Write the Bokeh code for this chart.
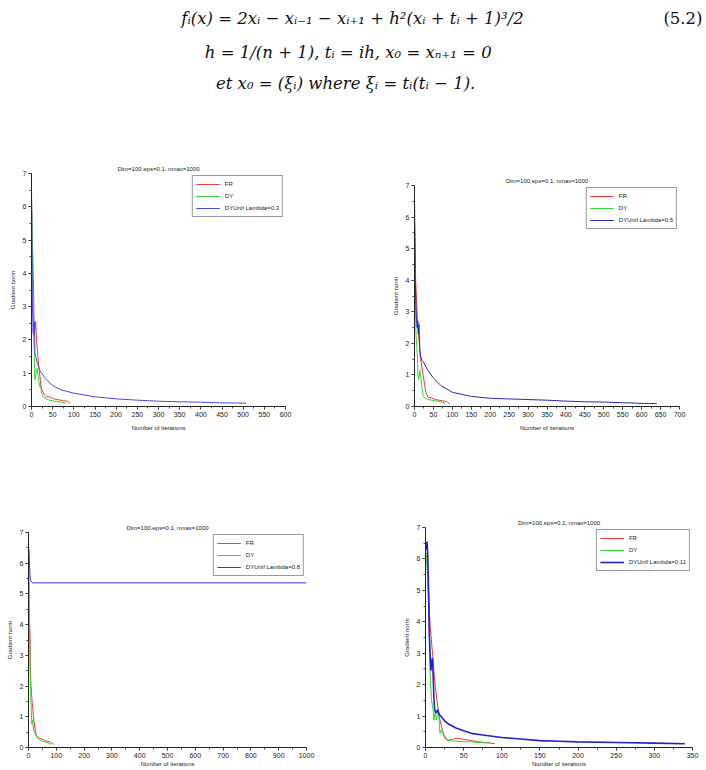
from bokeh.plotting import figure
from bokeh.models import Range1d, Label, Legend, LegendItem, SingleIntervalTicker
from bokeh.layouts import column, row
from bokeh.embed import file_html
from bokeh.resources import INLINE

# ---------------- data ----------------
TITLE = "Dim=100,eps=0.1, nmax=1000"
XLABEL = "Number of iterations"
YLABEL = "Gradient norm"
LABELS_FR = "FR"
LABELS_DY = "DY"
LAMBDA_LABELS = ["DYUnif Lambda=0.3", "DYUnif Lambda=0.5", "DYUnif Lambda=0.8", "DYUnif Lambda=0.11"]
XMAX = [600, 700, 1000, 350]
XTICK_STEP = [50, 50, 100, 50]

EQ_LINE1 = "f\u1d62(x) = 2x\u1d62 \u2212 x\u1d62\u208b\u2081 \u2212 x\u1d62\u208a\u2081 + h\u00b2(x\u1d62 + t\u1d62 + 1)\u00b3/2"
EQ_NUM = "(5.2)"
EQ_LINE2 = "h = 1/(n + 1),  t\u1d62 = ih,  x\u2080 = x\u2099\u208a\u2081 = 0"
EQ_LINE3 = "et  x\u2080 = (\u03be\u1d62)  where  \u03be\u1d62 = t\u1d62(t\u1d62 \u2212 1)."

# plot 1 (Lambda=0.3)
P1_FR_X = [0, 1, 2, 3, 4, 5, 6, 8, 10, 12, 15, 18, 20, 22, 25, 30, 35, 45, 55, 65, 75, 85, 92]
P1_FR_Y = [6.25, 5.6, 5.0, 4.5, 4.0, 3.4, 2.6, 2.3, 2.55, 2.0, 1.5, 1.1, 0.9, 0.65, 0.5, 0.35, 0.3, 0.28, 0.22, 0.2, 0.17, 0.16, 0.08]
P1_DY_X = [0, 1, 2, 3, 4, 5, 6, 8, 10, 13, 16, 19, 21, 24, 27, 32, 40, 50, 60, 70, 80]
P1_DY_Y = [6.1, 5.7, 4.5, 3.5, 3.0, 2.1, 1.8, 0.8, 0.95, 1.15, 0.9, 0.6, 0.65, 0.4, 0.3, 0.25, 0.2, 0.17, 0.15, 0.13, 0.1]
P1_DU_X = [0, 1, 2, 3, 4, 5, 6, 7, 8, 10, 14, 20, 25, 35, 50, 70, 100, 150, 200, 250, 300, 350, 400, 450, 500, 507]
P1_DU_Y = [6.55, 5.0, 3.2, 2.6, 2.2, 2.5, 2.15, 2.55, 1.6, 1.5, 1.3, 1.08, 0.98, 0.8, 0.63, 0.5, 0.4, 0.29, 0.23, 0.19, 0.16, 0.14, 0.13, 0.11, 0.1, 0.1]

# plot 2 (Lambda=0.5)
P2_FR_X = [0, 1, 3, 5, 7, 9, 12, 15, 18, 22, 26, 30, 35, 45, 55, 65, 75, 85, 93]
P2_FR_Y = [5.8, 5.3, 4.0, 3.5, 2.9, 2.5, 2.1, 1.6, 1.35, 1.05, 0.75, 0.45, 0.3, 0.27, 0.22, 0.2, 0.18, 0.15, 0.08]
P2_DY_X = [0, 1, 2, 3, 4, 6, 8, 9, 11, 14, 17, 20, 23, 27, 35, 45, 55, 65, 75, 80]
P2_DY_Y = [5.6, 5.0, 4.0, 3.0, 2.3, 1.9, 1.5, 1.0, 0.85, 1.15, 0.9, 0.55, 0.35, 0.28, 0.22, 0.2, 0.18, 0.16, 0.13, 0.1]
P2_DU_X = [0, 1, 2, 3, 5, 7, 9, 10, 12, 14, 16, 20, 25, 35, 42, 50, 70, 100, 150, 200, 250, 300, 350, 400, 450, 500, 550, 600, 640]
P2_DU_Y = [6.6, 5.5, 4.0, 3.5, 2.8, 2.5, 2.7, 2.3, 2.6, 1.8, 1.6, 1.45, 1.38, 1.15, 1.03, 0.9, 0.66, 0.45, 0.32, 0.26, 0.24, 0.22, 0.2, 0.17, 0.15, 0.14, 0.12, 0.1, 0.09]

# plot 3 (Lambda=0.8)
P3_FR_X = [0, 1, 2, 3, 4, 6, 7, 9, 12, 15, 18, 22, 25, 30, 40, 50, 60, 70, 80, 90]
P3_FR_Y = [6.3, 5.8, 5.0, 4.3, 4.0, 3.5, 2.5, 2.0, 1.6, 1.3, 1.0, 0.7, 0.5, 0.35, 0.3, 0.27, 0.22, 0.2, 0.17, 0.1]
P3_DY_X = [0, 1, 2, 3, 4, 5, 6, 8, 10, 12, 15, 18, 22, 26, 32, 40, 50, 60, 70, 80]
P3_DY_Y = [6.2, 5.5, 5.0, 4.3, 3.5, 3.0, 2.4, 1.8, 1.2, 0.75, 0.9, 0.6, 0.5, 0.4, 0.3, 0.25, 0.2, 0.18, 0.15, 0.1]
P3_DU_X = [0, 2, 4, 6, 8, 10, 15, 1000]
P3_DU_Y = [6.55, 6.4, 5.9, 5.5, 5.45, 5.4, 5.36, 5.36]

# plot 4 (Lambda=0.11)
P4_FR_X = [0, 2, 3, 6, 10, 12, 15, 18, 21, 24, 29, 35, 40, 50, 60, 70, 80, 91]
P4_FR_Y = [6.2, 6.0, 5.6, 3.9, 2.77, 2.13, 1.5, 0.98, 0.66, 0.4, 0.24, 0.25, 0.3, 0.26, 0.22, 0.18, 0.16, 0.12]
P4_DY_X = [0, 2, 3, 5, 6, 8, 10, 11, 13, 14, 17, 19, 21, 24, 27, 33, 45, 60, 75, 85]
P4_DY_Y = [6.3, 5.8, 5.3, 3.9, 2.35, 1.5, 1.19, 0.87, 1.19, 0.87, 1.19, 0.45, 0.56, 0.35, 0.24, 0.21, 0.19, 0.18, 0.15, 0.14]
P4_DU_X = [0, 1, 2, 3, 4, 5, 6, 7, 8, 9, 10, 11, 12, 14, 16, 18, 20, 25, 30, 40, 50, 60, 75, 100, 125, 150, 175, 200, 250, 300, 340]
P4_DU_Y = [6.35, 6.3, 6.55, 6.1, 5.0, 3.6, 3.0, 2.45, 2.6, 2.85, 2.3, 1.6, 1.2, 1.1, 1.2, 1.05, 1.0, 0.85, 0.75, 0.62, 0.53, 0.45, 0.4, 0.32, 0.27, 0.22, 0.2, 0.18, 0.16, 0.14, 0.12]

SERIES = [
    (P1_FR_X, P1_FR_Y, P1_DY_X, P1_DY_Y, P1_DU_X, P1_DU_Y),
    (P2_FR_X, P2_FR_Y, P2_DY_X, P2_DY_Y, P2_DU_X, P2_DU_Y),
    (P3_FR_X, P3_FR_Y, P3_DY_X, P3_DY_Y, P3_DU_X, P3_DU_Y),
    (P4_FR_X, P4_FR_Y, P4_DY_X, P4_DY_Y, P4_DU_X, P4_DU_Y),
]

# ---------------- styles ----------------
RED = "#ee3b3b"
GREEN = "#33d633"
BLUES = ["#4a4ae6", "#2a2ab8", "#3a3ad6", "#2323c4"]
BLUE_W = [1, 1, 1, 1.6]
FONT = "Liberation Sans"
AXIS_COLOR = "#222222"

# (width, height, left, right, top, bottom, top margin)
GEOM = [
    (353, 355, 31, 68, 23, 99, 0),
    (353, 343, 61, 27, 23, 97, 12),
    (353, 260, 28, 47, 22, 23, 5),
    (353, 265, 72, 14, 22, 21, 0),
]


def make_panel(i):
    w, h, bl, br, bt, bb, mt = GEOM[i]
    fx, fy, dx, dy, ux, uy = SERIES[i]
    p = figure(width=w, height=h, x_range=Range1d(0, XMAX[i]), y_range=Range1d(0, 7),
               toolbar_location=None, output_backend="svg",
               min_border_left=bl, min_border_right=br, min_border_top=bt, min_border_bottom=bb,
               title=TITLE, margin=(mt, 0, 0, 0))
    p.title.text_font = FONT
    p.title.text_font_size = "6px"
    p.title.text_font_style = "normal"
    p.title.align = "center"
    p.title.standoff = 3
    p.title.text_color = AXIS_COLOR
    p.grid.visible = False
    p.outline_line_color = None
    p.background_fill_color = "white"
    p.border_fill_color = "white"

    p.xaxis.ticker = SingleIntervalTicker(interval=XTICK_STEP[i], num_minor_ticks=2)
    p.yaxis.ticker = SingleIntervalTicker(interval=1, num_minor_ticks=2)
    for ax in (p.xaxis[0], p.yaxis[0]):
        ax.axis_line_color = AXIS_COLOR
        ax.major_tick_line_color = AXIS_COLOR
        ax.minor_tick_line_color = "#444444"
        ax.major_tick_in = 0
        ax.major_tick_out = 3
        ax.minor_tick_in = 0
        ax.minor_tick_out = 2
        ax.major_label_text_font = FONT
        ax.major_label_text_font_size = "7px"
        ax.major_label_text_color = AXIS_COLOR
        ax.major_label_standoff = 2
        ax.axis_label_text_font = FONT
        ax.axis_label_text_font_size = "6px"
        ax.axis_label_text_font_style = "normal"
        ax.axis_label_text_color = AXIS_COLOR
        ax.axis_label_standoff = 0 if i >= 2 else 5
    p.xaxis.axis_label = XLABEL
    p.yaxis.axis_label = YLABEL
    p.yaxis.axis_label_standoff = 4

    r1 = p.line(fx, fy, line_color=RED, line_width=1)
    r2 = p.line(dx, dy, line_color=GREEN, line_width=1)
    r3 = p.line(ux, uy, line_color=BLUES[i], line_width=BLUE_W[i])

    leg = Legend(items=[LegendItem(label=LABELS_FR, renderers=[r1]),
                        LegendItem(label=LABELS_DY, renderers=[r2]),
                        LegendItem(label=LAMBDA_LABELS[i], renderers=[r3])],
                 location="top_right")
    leg.margin = 2
    leg.padding = 3
    leg.spacing = 2
    leg.label_height = 10
    leg.glyph_height = 10
    leg.glyph_width = 24
    leg.label_standoff = 5
    leg.label_text_font = FONT
    leg.label_text_font_size = "6px"
    leg.label_text_color = AXIS_COLOR
    leg.border_line_color = "#333333"
    leg.border_line_width = 1
    leg.background_fill_color = "white"
    leg.background_fill_alpha = 1.0
    p.add_layout(leg)
    return p


# equations block
eq = figure(width=706, height=150, x_range=Range1d(0, 706), y_range=Range1d(150, 0),
            toolbar_location=None, output_backend="svg", min_border=0,
            x_axis_type=None, y_axis_type=None)
eq.grid.visible = False
eq.outline_line_color = None
SERIF = "DejaVu Serif"
for txt, xx, yy, al, style in [(EQ_LINE1, 352, 18, "center", "italic"),
                                (EQ_NUM, 702, 18, "right", "normal"),
                                (EQ_LINE2, 353, 52, "center", "italic"),
                                (EQ_LINE3, 353, 83, "center", "italic")]:
    eq.add_layout(Label(x=xx, y=yy, text=txt, text_align=al, text_baseline="middle",
                        text_font=SERIF, text_font_size="16.5px", text_font_style=style,
                        text_color="#111111"))

panels = [make_panel(i) for i in range(4)]
layout = column(eq, row(panels[0], panels[1]), row(panels[2], panels[3]))

open("out.html", "w").write(file_html(layout, INLINE))
